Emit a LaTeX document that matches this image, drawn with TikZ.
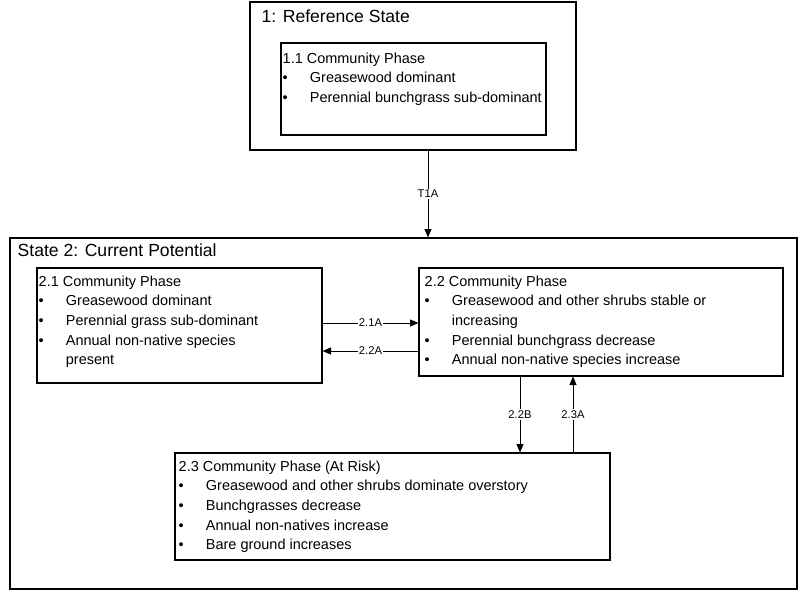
\documentclass[tikz,border=0pt]{standalone}
\usepackage{fontspec}
\setmainfont{Liberation Sans}
\usetikzlibrary{arrows.meta}
\tikzset{
    box/.style={draw,thick,inner sep=0pt},
    body/.style={anchor=north west,inner sep=0pt,font=\fontsize{10.3}{14}\selectfont,align=left},
    title/.style={anchor=north west,inner sep=0pt,font=\fontsize{12.5}{14}\selectfont},
    trans/.style={-{Triangle[length=6pt,width=5pt]},semithick},
    lab/.style={fill=white,inner sep=1pt,font=\fontsize{8}{9}\selectfont}
}
\newcommand{\bl}{\makebox[0.68cm][l]{\textbullet}}
\newcommand{\nb}{\makebox[0.68cm][l]{}}
\begin{document}
\begin{tikzpicture}
    \useasboundingbox (0,0) rectangle (20,-14.775);
    % state 1
    \node[box,minimum width=8.15cm,minimum height=3.7cm] (s1) at (10.325,-1.9) {};
    \node[title] (s1t) at ([xshift=0.3cm,yshift=-0.2cm]s1.north west) {1: Reference State};
    \node[box,minimum width=6.625cm,minimum height=2.3cm] (p11) at (10.3375,-2.225) {};
    \node[body] (p11t) at ([xshift=0.05cm,yshift=-0.25cm]p11.north west)
        {1.1 Community Phase\\
         \bl Greasewood dominant\\
         \bl Perennial bunchgrass sub-dominant};
    % state 2
    \node[box,minimum width=19.675cm,minimum height=8.775cm] (s2) at (10.0875,-10.3375) {};
    \node[title] (s2t) at ([xshift=0.2cm,yshift=-0.15cm]s2.north west) {State 2: Current Potential};
    \node[box,minimum width=7.125cm,minimum height=2.875cm] (p21) at (4.4875,-8.1375) {};
    \node[body] (p21t) at ([xshift=0.05cm,yshift=-0.2cm]p21.north west)
        {2.1 Community Phase\\
         \bl Greasewood dominant\\
         \bl Perennial grass sub-dominant\\
         \bl Annual non-native species\\
         \nb present};
    \node[box,minimum width=9.1cm,minimum height=2.7cm] (p22) at (15.025,-8.05) {};
    \node[body] (p22t) at ([xshift=0.15cm,yshift=-0.2cm]p22.north west)
        {2.2 Community Phase\\
         \bl Greasewood and other shrubs stable or\\
         \nb increasing\\
         \bl Perennial bunchgrass decrease\\
         \bl Annual non-native species increase};
    \node[box,minimum width=10.875cm,minimum height=2.675cm] (p23) at (9.8125,-12.6625) {};
    \node[body] (p23t) at ([xshift=0.1cm,yshift=-0.2cm]p23.north west)
        {2.3 Community Phase (At Risk)\\
         \bl Greasewood and other shrubs dominate overstory\\
         \bl Bunchgrasses decrease\\
         \bl Annual non-natives increase\\
         \bl Bare ground increases};
    % transitions
    \draw[trans] (s1.south -| 10.7,0) -- node[lab] {T1A} (s2.north -| 10.7,0);
    \draw[trans] (p21.east |- 0,-8.075) -- node[lab] {2.1A} (p22.west |- 0,-8.075);
    \draw[trans] (p22.west |- 0,-8.775) -- node[lab] {2.2A} (p21.east |- 0,-8.775);
    \draw[trans] (p22.south -| 13,0) -- node[lab] {2.2B} (p23.north -| 13,0);
    \draw[trans] (p23.north -| 14.325,0) -- node[lab] {2.3A} (p22.south -| 14.325,0);
\end{tikzpicture}
\end{document}
